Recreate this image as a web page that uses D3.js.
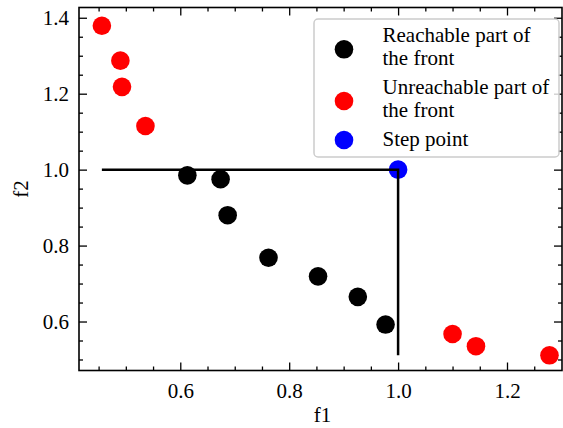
<!DOCTYPE html>
<html>
<head>
<meta charset="utf-8">
<script src="https://cdn.jsdelivr.net/npm/d3@7"></script>
<style>
  html, body { margin: 0; padding: 0; background: #fff; }
  svg { display: block; }
  text { font-family: "Liberation Serif", "Times New Roman", serif; fill: #000; }
</style>
</head>
<body>
<script>
// Pareto front split by the step point
const reachF1 = [0.613, 0.674, 0.687, 0.762, 0.853, 0.926, 0.977];
const reachF2 = [0.985, 0.975, 0.880, 0.768, 0.719, 0.665, 0.592];
const unreachF1 = [0.456, 0.490, 0.493, 0.536, 1.100, 1.143, 1.278];
const unreachF2 = [1.379, 1.287, 1.218, 1.115, 0.567, 0.535, 0.511];
const stepF1 = [1.0];
const stepF2 = [1.0];
const xTicks = [0.6, 0.8, 1.0, 1.2];
const yTicks = [0.6, 0.8, 1.0, 1.2, 1.4];
const legendLabels = [["Reachable part of", "the front"], ["Unreachable part of", "the front"], ["Step point"]];
const legendColors = ["#000000", "#ff0000", "#0000ff"];

const W = 563, H = 428;
const m = { left: 79, right: 562, top: 7.5, bottom: 370.5 };
const FS = "21px";

const x = d3.scaleLinear().domain([0.414, 1.301]).range([m.left, m.right]);
const y = d3.scaleLinear().domain([0.471, 1.427]).range([m.bottom, m.top]);

const svg = d3.select("body").append("svg").attr("width", W).attr("height", H);

const R = 9.3;
function scatter(xs, ys, color) {
  svg.append("g").selectAll("circle").data(xs).join("circle")
    .attr("cx", (d) => x(d)).attr("cy", (d, i) => y(ys[i]))
    .attr("r", R).attr("fill", color);
}
scatter(reachF1, reachF2, legendColors[0]);
scatter(unreachF1, unreachF2, legendColors[1]);
scatter(stepF1, stepF2, legendColors[2]);

// Dominance lines from the step point to the extremes of the front
const minF1 = d3.min(unreachF1.concat(reachF1));
const minF2 = d3.min(unreachF2.concat(reachF2));
svg.append("path")
  .attr("d", d3.line()([[x(minF1), y(stepF2[0])], [x(stepF1[0]), y(stepF2[0])], [x(stepF1[0]), y(minF2)]]))
  .attr("fill", "none").attr("stroke", "#000").attr("stroke-width", 2.5);

// Axes: ticks pointing inward on all four sides, minor ticks every 0.05
const minorX = d3.range(0.45, 1.30, 0.05).map((v) => +v.toFixed(2)).filter((v) => !xTicks.some((t) => Math.abs(t - v) < 1e-6));
const minorY = d3.range(0.5, 1.43, 0.05).map((v) => +v.toFixed(2)).filter((v) => !yTicks.some((t) => Math.abs(t - v) < 1e-6));

const axisStyle = (g) => {
  g.select(".domain").remove();
  g.selectAll("line").attr("stroke", "#000").attr("stroke-width", 1.3);
  g.selectAll("text").attr("font-size", FS)
    .attr("font-family", '"Liberation Serif", "Times New Roman", serif');
};

// bottom
svg.append("g").attr("transform", `translate(0,${m.bottom})`)
  .call(d3.axisBottom(x).tickValues(xTicks).tickFormat(d3.format(".1f")).tickSizeInner(-8).tickSizeOuter(0).tickPadding(13))
  .call(axisStyle);
svg.append("g").attr("transform", `translate(0,${m.bottom})`)
  .call(d3.axisBottom(x).tickValues(minorX).tickFormat("").tickSizeInner(-4).tickSizeOuter(0))
  .call(axisStyle);
// top
svg.append("g").attr("transform", `translate(0,${m.top})`)
  .call(d3.axisTop(x).tickValues(xTicks).tickFormat("").tickSizeInner(-8).tickSizeOuter(0))
  .call(axisStyle);
svg.append("g").attr("transform", `translate(0,${m.top})`)
  .call(d3.axisTop(x).tickValues(minorX).tickFormat("").tickSizeInner(-4).tickSizeOuter(0))
  .call(axisStyle);
// left
svg.append("g").attr("transform", `translate(${m.left},0)`)
  .call(d3.axisLeft(y).tickValues(yTicks).tickFormat(d3.format(".1f")).tickSizeInner(-8).tickSizeOuter(0).tickPadding(10))
  .call(axisStyle);
svg.append("g").attr("transform", `translate(${m.left},0)`)
  .call(d3.axisLeft(y).tickValues(minorY).tickFormat("").tickSizeInner(-4).tickSizeOuter(0))
  .call(axisStyle);
// right
svg.append("g").attr("transform", `translate(${m.right},0)`)
  .call(d3.axisRight(y).tickValues(yTicks).tickFormat("").tickSizeInner(-8).tickSizeOuter(0))
  .call(axisStyle);
svg.append("g").attr("transform", `translate(${m.right},0)`)
  .call(d3.axisRight(y).tickValues(minorY).tickFormat("").tickSizeInner(-4).tickSizeOuter(0))
  .call(axisStyle);

// frame
svg.append("rect")
  .attr("x", m.left).attr("y", m.top)
  .attr("width", m.right - m.left).attr("height", m.bottom - m.top)
  .attr("fill", "none").attr("stroke", "#000").attr("stroke-width", 1.6);

// axis labels
svg.append("text").attr("x", (m.left + m.right) / 2 + 2).attr("y", 421.5)
  .attr("text-anchor", "middle").attr("font-size", FS).text("f1");
svg.append("text").attr("transform", `translate(28,${(m.top + m.bottom) / 2}) rotate(-90)`)
  .attr("text-anchor", "middle").attr("font-size", FS).text("f2");

// legend
const lg = svg.append("g");
lg.append("rect").attr("x", 314).attr("y", 19).attr("width", 245).attr("height", 138)
  .attr("rx", 4).attr("fill", "#fff").attr("fill-opacity", 0.8)
  .attr("stroke", "#cccccc").attr("stroke-width", 1.5);
const markerY = [49.3, 101, 140];
const lineGap = 23.4;
legendLabels.forEach((lines, i) => {
  lg.append("circle").attr("cx", 344).attr("cy", markerY[i]).attr("r", R).attr("fill", legendColors[i]);
  const first = lines.length > 1 ? markerY[i] + 4.2 - lineGap / 2 : markerY[i] + 5.8;
  const t = lg.append("text").attr("x", 382.5).attr("y", first).attr("font-size", FS);
  lines.forEach((s, j) => {
    t.append("tspan").attr("x", 382.5).attr("y", first + j * lineGap).text(s);
  });
});
</script>
</body>
</html>
